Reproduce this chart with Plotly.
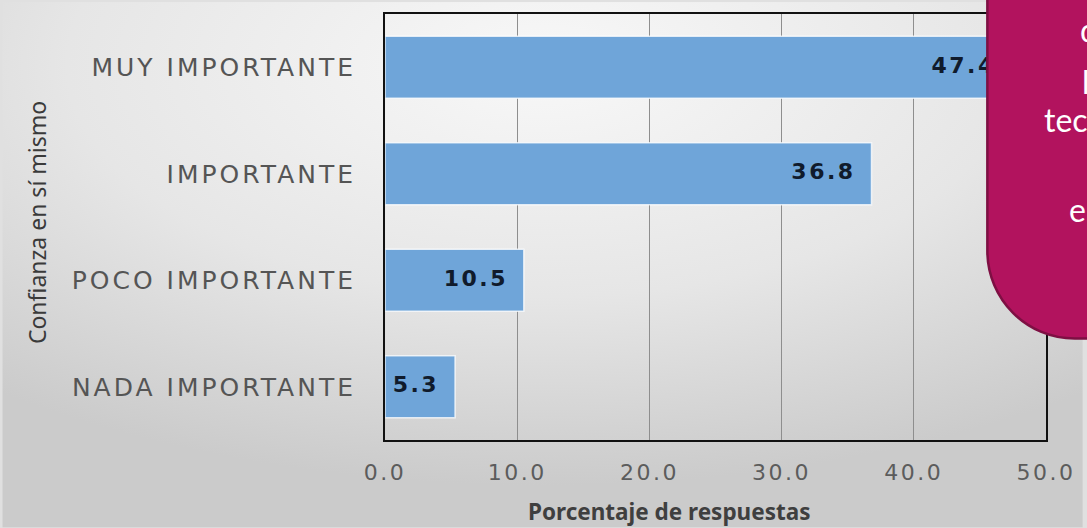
import base64
import plotly.graph_objects as go

categorias = ["MUY IMPORTANTE", "IMPORTANTE", "POCO IMPORTANTE", "NADA IMPORTANTE"]
porcentajes = [47.4, 36.8, 10.5, 5.3]
x_ticks = [0, 10, 20, 30, 40, 50]
x_ticklabels = ["0.0", "10.0", "20.0", "30.0", "40.0", "50.0"]
lineas_cuadro = ["de", "la", "tecnología", "", "en"]

W, H = 1087, 528
L, R, T, B = 385, 37, 12, 88
pw, ph = W - L - R, H - T - B


def px(x):
    return (x - L) / pw


def py(y):
    return (H - B - y) / ph


def ancho(s, sp=3.0):
    # texto "estirado" como en la imagen original
    return f"<span style='letter-spacing:{sp}px'>{s}</span>"


# fondo degradado gris (como la diapositiva)
svg = ("<svg xmlns='http://www.w3.org/2000/svg' width='1087' height='528'>"
       "<defs><radialGradient id='g' cx='0.5' cy='0.12' r='0.8'>"
       "<stop offset='0' stop-color='#f8f8f8'/><stop offset='0.55' stop-color='#e6e6e6'/>"
       "<stop offset='1' stop-color='#cbcbcb'/></radialGradient></defs>"
       "<rect width='1087' height='528' fill='url(#g)'/></svg>")
fondo = "data:image/svg+xml;base64," + base64.b64encode(svg.encode()).decode()

fig = go.Figure()

fig.add_trace(go.Bar(
    x=porcentajes, y=categorias, orientation="h", width=0.58,
    marker=dict(color="#6fa5d9", line=dict(color="rgba(255,255,255,0.75)", width=1.5)),
    hoverinfo="skip", showlegend=False
))

# etiquetas de valor dentro del extremo de la barra
fig.add_trace(go.Scatter(
    x=[v - 1.2 for v in porcentajes], y=categorias, mode="text",
    text=[ancho("%.1f" % v, 2.5) for v in porcentajes], textposition="middle left",
    textfont=dict(family="DejaVu Sans", size=22, color="#101b2c", weight="bold"),
    cliponaxis=False, hoverinfo="skip", showlegend=False
))

fig.update_layout(
    width=W, height=H,
    margin=dict(l=L, r=R, t=T, b=B),
    paper_bgcolor="#e0e0e0",
    plot_bgcolor="rgba(0,0,0,0)",
    images=[dict(source=fondo, xref="paper", yref="paper",
                 x=px(0), y=py(0), sizex=W / pw, sizey=H / ph,
                 xanchor="left", yanchor="top", sizing="stretch", layer="below")],
    xaxis=dict(range=[0, 50], tickvals=x_ticks, ticktext=[ancho(t, 2.5) for t in x_ticklabels],
               showgrid=True, gridcolor="#8e8e8e", gridwidth=1,
               showline=True, linecolor="#111111", linewidth=2, mirror=True,
               zeroline=False, ticks="", ticklabelstandoff=12,
               tickfont=dict(family="DejaVu Sans", size=22, color="#5c5c5c")),
    yaxis=dict(categoryorder="array", categoryarray=categorias, autorange="reversed",
               tickvals=categorias, ticktext=[ancho(c, 3.0) for c in categorias],
               showgrid=False, showline=True, linecolor="#111111", linewidth=2, mirror=True,
               ticks="", ticklabelstandoff=22,
               tickfont=dict(family="DejaVu Sans", size=25, color="#555555")),
)

fig.add_annotation(text="<b>Porcentaje de respuestas</b>", xref="paper", yref="paper",
                   x=px(671), y=py(512), showarrow=False, xanchor="center", yanchor="middle",
                   font=dict(family="Noto Sans", size=22.5, color="#3f3f3f"))
fig.add_annotation(text="Confianza en sí mismo", xref="paper", yref="paper",
                   x=px(35), y=py(222), showarrow=False, textangle=-90,
                   xanchor="center", yanchor="middle",
                   font=dict(family="Noto Sans", size=23, color="#3a3a3a"))

# cuadro magenta superpuesto (esquina inferior izquierda redondeada)
x0, y0, x1, y1, r = 991, -6, 1100, 338, 88
k = 0.552 * r
path = (f"M {px(x1)},{py(y0)} L {px(x0)},{py(y0)} L {px(x0)},{py(y1 - r)} "
        f"C {px(x0)},{py(y1 - r + k)} {px(x0 + r - k)},{py(y1)} {px(x0 + r)},{py(y1)} "
        f"L {px(x1)},{py(y1)} Z")
fig.add_shape(type="path", path=path, xref="paper", yref="paper",
              fillcolor="#b2135e", line=dict(color="#7e0f43", width=2.5), layer="above")

pos_lineas = [(1082, 28), (1084, 80), (1046, 118), (1060, 163), (1071, 208)]
for txt, (lx, ly) in zip(lineas_cuadro, pos_lineas):
    if txt:
        fig.add_annotation(text=txt, xref="paper", yref="paper", x=px(lx), y=py(ly),
                           showarrow=False, xanchor="left", yanchor="middle",
                           font=dict(family="Lato", size=32, color="#ffffff"))

fig.write_html("out.html", config={"displayModeBar": False},
               post_script="document.body.style.margin='0';")
